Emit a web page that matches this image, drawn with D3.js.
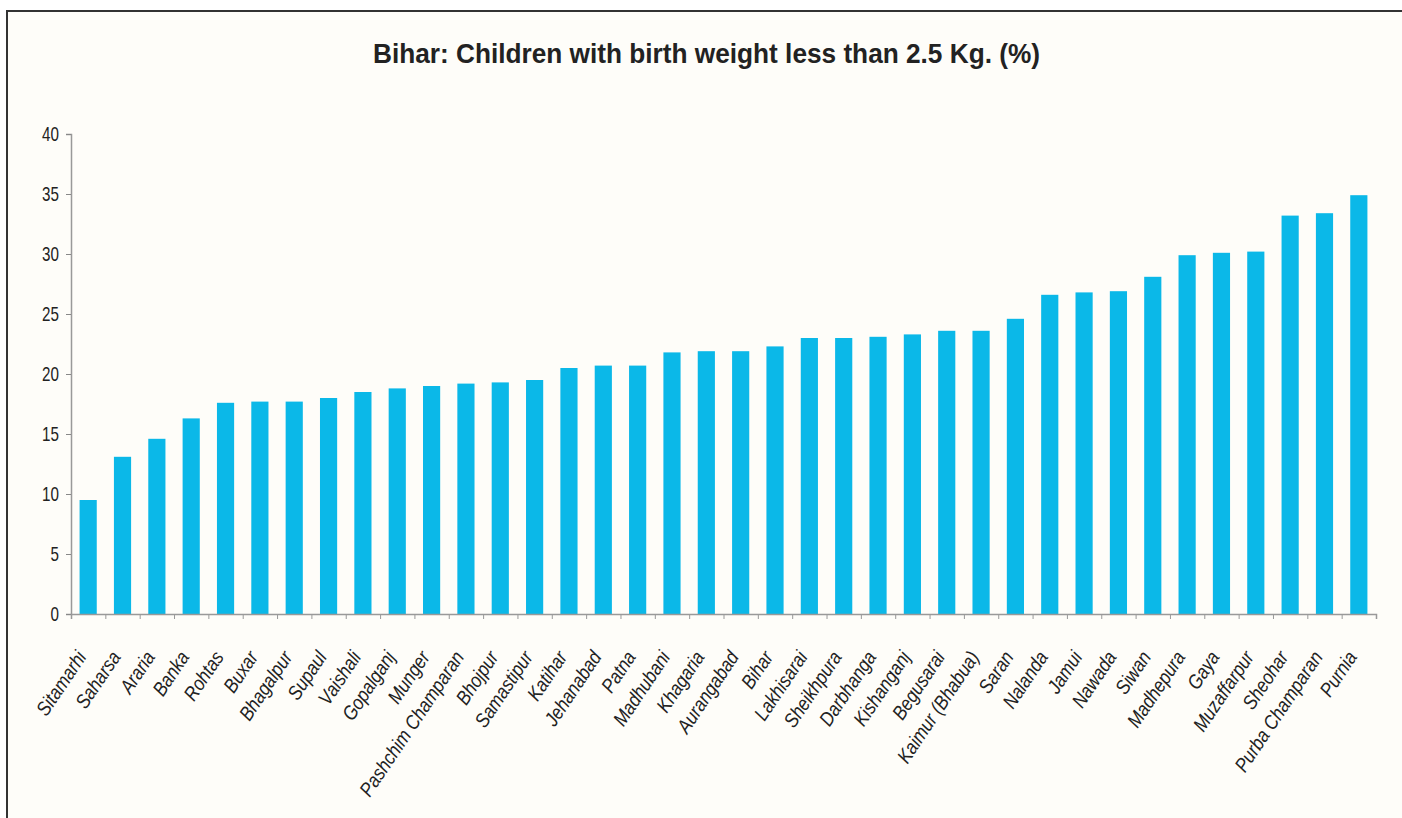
<!DOCTYPE html>
<html>
<head>
<meta charset="utf-8">
<script src="https://cdn.jsdelivr.net/npm/d3@7"></script>
<style>
  html, body { margin: 0; padding: 0; background: #ffffff; }
  svg { display: block; }
</style>
</head>
<body>
<svg id="chart" width="1402" height="818"></svg>
<script>
const categories = ["Sitamarhi","Saharsa","Araria","Banka","Rohtas","Buxar","Bhagalpur","Supaul","Vaishali","Gopalganj","Munger","Pashchim Champaran","Bhojpur","Samastipur","Katihar","Jehanabad","Patna","Madhubani","Khagaria","Aurangabad","Bihar","Lakhisarai","Sheikhpura","Darbhanga","Kishanganj","Begusarai","Kaimur (Bhabua)","Saran","Nalanda","Jamui","Nawada","Siwan","Madhepura","Gaya","Muzaffarpur","Sheohar","Purba Champaran","Purnia"];
const values = [9.5,13.1,14.6,16.3,17.6,17.7,17.7,18.0,18.5,18.8,19.0,19.2,19.3,19.5,20.5,20.7,20.7,21.8,21.9,21.9,22.3,23.0,23.0,23.1,23.3,23.6,23.6,24.6,26.6,26.8,26.9,28.1,29.9,30.1,30.2,33.2,33.4,34.9];
const yTicks = [0,5,10,15,20,25,30,35,40];
const title = "Bihar: Children with birth weight less than 2.5 Kg. (%)";

(function () {
const svg = d3.select("#chart");
const W = 1402, H = 818;
const mLeft = 71, mRight = 1376, mTop = 134, mBottom = 614;
const font = "'Liberation Sans', Arial, sans-serif";

svg.append("rect").attr("x", 7).attr("y", 11).attr("width", W + 10).attr("height", H + 10)
  .attr("fill", "#fefdf9").attr("stroke", "#333").attr("stroke-width", 2);

svg.append("text").attr("x", 373).attr("y", 63)
  .attr("font-family", font)
  .attr("font-weight", "bold").attr("font-size", 28).attr("fill", "#222")
  .attr("textLength", 667).attr("lengthAdjust", "spacingAndGlyphs")
  .text(title);

const x = d3.scaleBand().domain(categories).range([mLeft, mRight]).paddingInner(0.5).paddingOuter(0.25);
const y = d3.scaleLinear().domain([0, 40]).range([mBottom, mTop]);

svg.append("g").selectAll("rect").data(values).join("rect")
  .attr("x", (d, i) => x(categories[i]))
  .attr("y", d => y(d))
  .attr("width", x.bandwidth())
  .attr("height", d => y(0) - y(d))
  .attr("fill", "#0bb8e8");

const yAxis = svg.append("g").attr("transform", `translate(${mLeft},0)`)
  .call(d3.axisLeft(y).tickValues(yTicks).tickSize(5).tickFormat(""));
yAxis.select(".domain").attr("stroke", "#999").attr("stroke-width", 1.5);
yAxis.selectAll(".tick line").attr("stroke", "#888");

svg.append("g").selectAll("text").data(yTicks).join("text")
  .attr("transform", d => `translate(${mLeft - 12},${y(d)}) scale(0.76,1)`)
  .attr("text-anchor", "end").attr("dy", "0.35em")
  .attr("font-family", font).attr("font-size", 20).attr("fill", "#222")
  .text(d => d);

const xBoundary = d3.scaleLinear().domain([0, categories.length]).range([mLeft, mRight]);
const xAxis = svg.append("g").attr("transform", `translate(0,${mBottom})`)
  .call(d3.axisBottom(xBoundary).tickValues(d3.range(0, categories.length + 1)).tickSize(5).tickFormat(""));
xAxis.select(".domain").attr("stroke", "#999").attr("stroke-width", 1.5);
xAxis.selectAll(".tick line").attr("stroke", "#999");

svg.append("g").selectAll("text").data(categories).join("text")
  .attr("transform", d => `translate(${x(d) + x.bandwidth() / 2 - 1},${mBottom + 43}) rotate(-56) scale(0.86,1)`)
  .attr("text-anchor", "end")
  .attr("font-family", font)
  .attr("font-style", "italic")
  .attr("font-size", 20).attr("fill", "#222")
  .text(d => d);
})();
</script>
</body>
</html>
